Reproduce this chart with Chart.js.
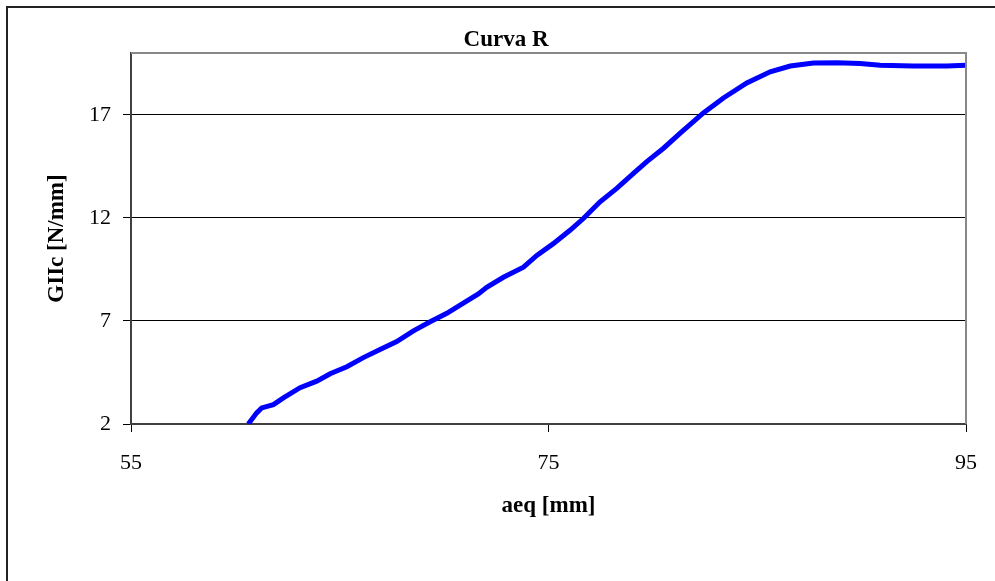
<!DOCTYPE html>
<html>
<head>
<meta charset="utf-8">
<script src="https://cdn.jsdelivr.net/npm/chart.js@4/dist/chart.umd.min.js"></script>
<style>
  html, body { margin: 0; padding: 0; background: #fff; }
  canvas { display: block; }
</style>
</head>
<body>
<canvas id="curvaR" width="995" height="581"></canvas>
<script>
// values
const aeq = [60.62, 61.02, 61.26, 61.82, 62.30, 63.10, 63.90, 64.54, 65.34, 66.13,
  66.93, 67.73, 68.53, 69.33, 70.13, 70.92, 71.64, 72.04, 72.84, 73.80,
  74.44, 75.23, 76.03, 76.67, 77.47, 78.27, 79.07, 79.71, 80.51, 81.31,
  82.42, 83.38, 84.50, 85.62, 86.58, 87.69, 88.81, 89.93, 90.89, 92.48,
  94.08, 95.00];
const giic = [2.00, 2.54, 2.78, 2.94, 3.27, 3.76, 4.08, 4.44, 4.78, 5.22,
  5.62, 6.00, 6.52, 6.96, 7.37, 7.87, 8.31, 8.63, 9.12, 9.61,
  10.18, 10.75, 11.40, 11.97, 12.78, 13.43, 14.16, 14.73, 15.38, 16.11,
  17.09, 17.82, 18.55, 19.09, 19.37, 19.51, 19.53, 19.49, 19.41, 19.37,
  19.37, 19.41];
const xTicks = [55, 75, 95];
const yTicks = [2, 7, 12, 17];

const serif = "'Liberation Serif', 'Times New Roman', serif";

// outer frame + grey top/right edge of the plot + chart title
const decor = {
  id: 'decor',
  beforeDraw(chart) {
    const ctx = chart.ctx;
    ctx.save();
    ctx.strokeStyle = '#222';
    ctx.lineWidth = 2;
    ctx.beginPath();
    ctx.moveTo(7, 600);
    ctx.lineTo(7, 7);
    ctx.lineTo(1000, 7);
    ctx.stroke();
    ctx.restore();
  },
  afterDraw(chart) {
    const { ctx, chartArea } = chart;
    ctx.save();
    ctx.strokeStyle = '#888';
    ctx.lineWidth = 2;
    ctx.beginPath();
    ctx.moveTo(chartArea.left, chartArea.top);
    ctx.lineTo(chartArea.right, chartArea.top);
    ctx.lineTo(chartArea.right, chartArea.bottom);
    ctx.stroke();
    ctx.fillStyle = '#000';
    ctx.font = 'bold 23px ' + serif;
    ctx.textAlign = 'center';
    ctx.textBaseline = 'middle';
    ctx.fillText('Curva R', 506, 40);
    ctx.restore();
  }
};

new Chart(document.getElementById('curvaR').getContext('2d'), {
  type: 'line',
  data: {
    datasets: [{
      data: aeq.map((x, i) => ({ x: x, y: giic[i] })),
      borderColor: '#0000FF',
      borderWidth: 5,
      pointRadius: 0,
      fill: false,
      tension: 0
    }]
  },
  options: {
    responsive: false,
    animation: false,
    devicePixelRatio: 1,
    layout: { padding: { top: 53, right: 29, left: 0, bottom: 0 } },
    plugins: { legend: { display: false }, tooltip: { enabled: false }, title: { display: false } },
    scales: {
      x: {
        type: 'linear',
        min: 55,
        max: 95,
        afterBuildTicks: s => { s.ticks = xTicks.map(v => ({ value: v })); },
        afterFit: s => { s.height = 157; },
        grid: { drawOnChartArea: false, drawTicks: true, tickLength: 8, tickColor: '#000' },
        border: { color: '#404040', width: 2 },
        ticks: { color: '#000', font: { family: serif, size: 22 }, padding: 18, maxRotation: 0 },
        title: { display: true, text: 'aeq [mm]', color: '#000',
          font: { family: serif, size: 23, weight: 'bold' }, padding: { top: 0, bottom: 61 } }
      },
      y: {
        min: 2,
        max: 20,
        afterBuildTicks: s => { s.ticks = yTicks.map(v => ({ value: v })); },
        afterFit: s => { s.width = 131; },
        grid: { color: '#000', lineWidth: 1, tickLength: 8, tickColor: '#000' },
        border: { color: '#404040', width: 2 },
        ticks: { color: '#000', font: { family: serif, size: 22 }, padding: 12 },
        title: { display: true, text: 'GIIc [N/mm]', color: '#000',
          font: { family: serif, size: 23, weight: 'bold' }, padding: { top: 43, bottom: 0 } }
      }
    }
  },
  plugins: [decor]
});
</script>
</body>
</html>
